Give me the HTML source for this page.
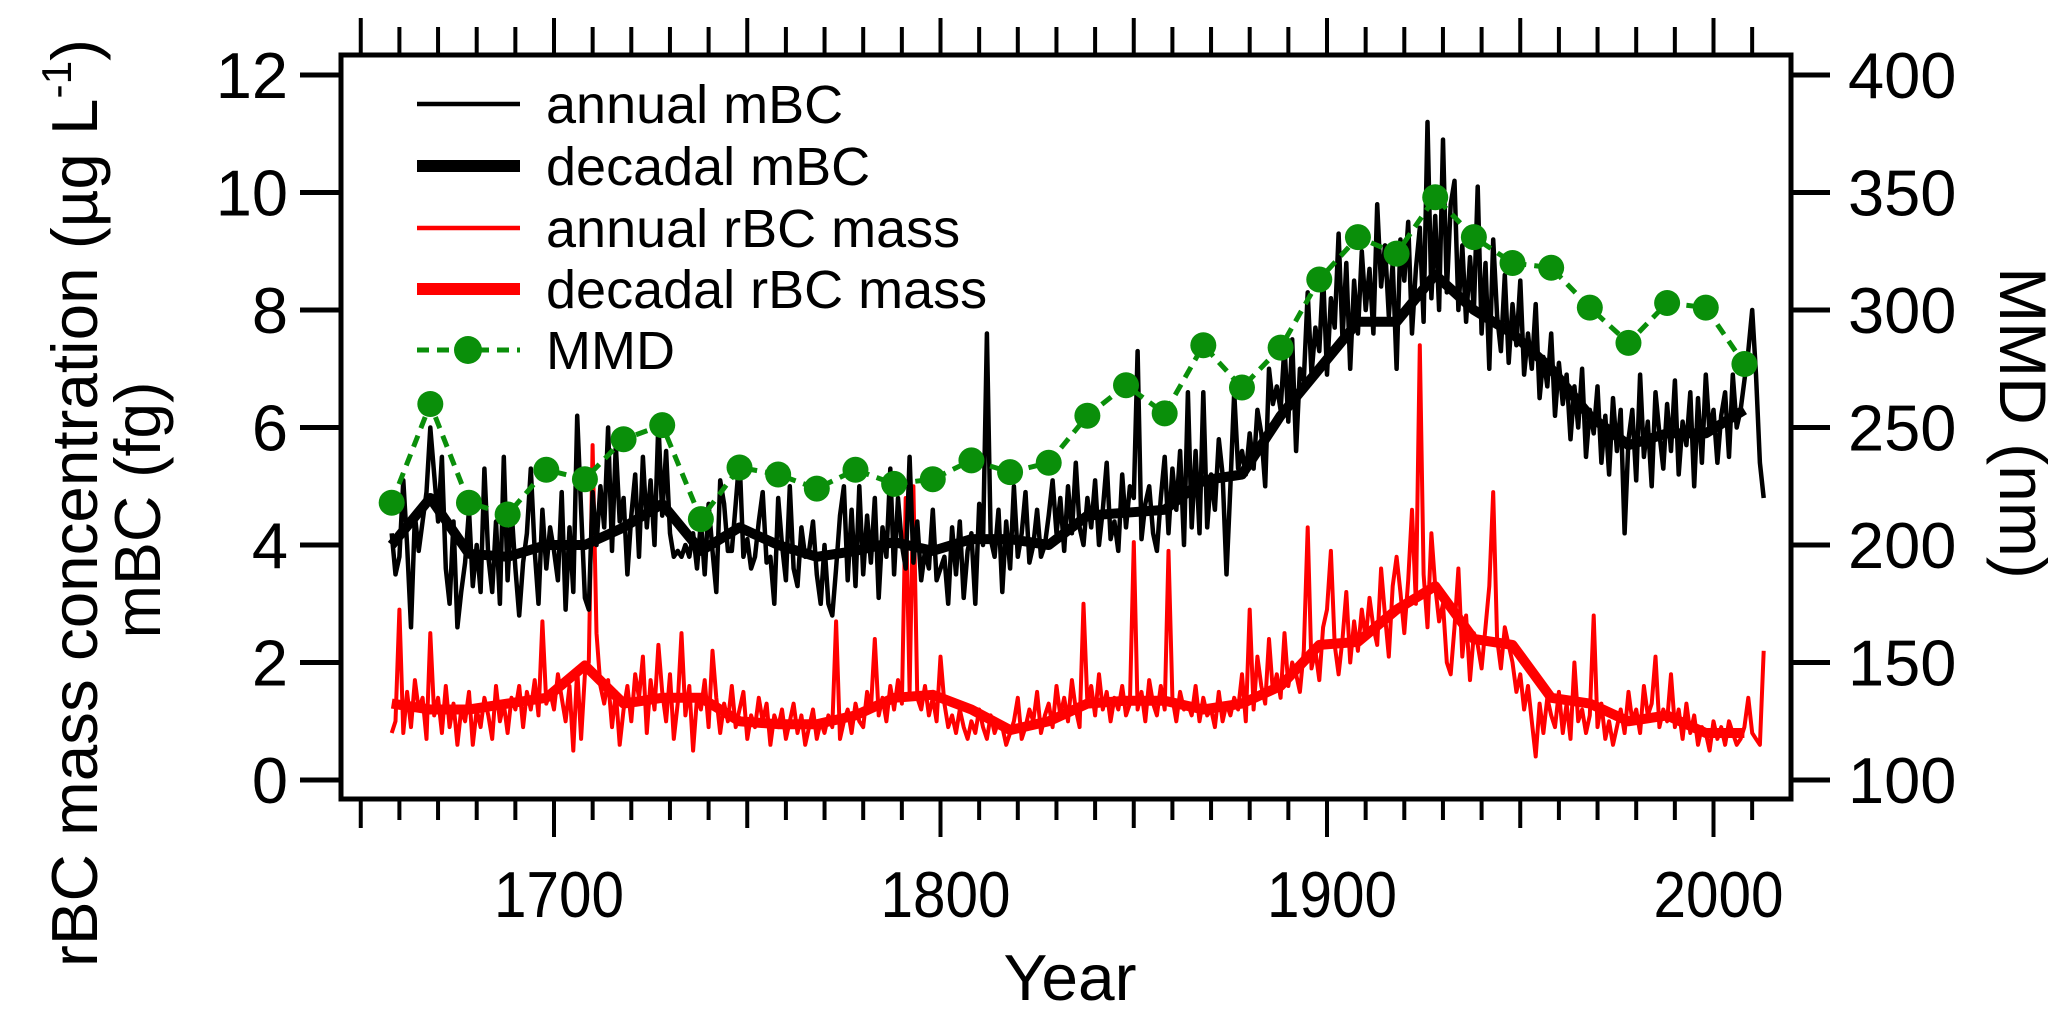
<!DOCTYPE html>
<html><head><meta charset="utf-8"><style>
html,body{margin:0;padding:0;background:#fff}
svg{display:block;font-family:"Liberation Sans",Arial,sans-serif}
</style></head><body>
<svg id="chart" width="2067" height="1020" viewBox="0 0 2067 1020" xmlns="http://www.w3.org/2000/svg">
<g id="series"></g>
<g id="axes"></g>
<rect x="341" y="55" width="1450" height="744" fill="none" stroke="#000" stroke-width="5"/>
<text transform="translate(97,503) rotate(-90)" text-anchor="middle" font-size="65" textLength="928" lengthAdjust="spacingAndGlyphs">rBC mass concentration (µg L<tspan font-size="42" dy="-26">-1</tspan><tspan dy="26">)</tspan></text>
<text transform="translate(160,510) rotate(-90)" text-anchor="middle" font-size="65" textLength="257" lengthAdjust="spacingAndGlyphs">mBC (fg)</text>
<text transform="translate(2000,423) rotate(90)" text-anchor="middle" font-size="66">MMD (nm)</text>
<text x="1070" y="1000" text-anchor="middle" font-size="65" textLength="133" lengthAdjust="spacingAndGlyphs">Year</text>
<g font-size="54">
  <line x1="417" y1="104" x2="520" y2="104" stroke="#000" stroke-width="4.5"/>
  <text x="546" y="123">annual mBC</text>
  <line x1="417" y1="166" x2="520" y2="166" stroke="#000" stroke-width="12"/>
  <text x="546" y="185">decadal mBC</text>
  <line x1="417" y1="228" x2="520" y2="228" stroke="#ff0000" stroke-width="4.5"/>
  <text x="546" y="247">annual rBC mass</text>
  <line x1="417" y1="289" x2="520" y2="289" stroke="#ff0000" stroke-width="12"/>
  <text x="546" y="308">decadal rBC mass</text>
  <line x1="417" y1="350" x2="520" y2="350" stroke="#0a8f0a" stroke-width="5" stroke-dasharray="12 8"/>
  <circle cx="468" cy="350" r="14" fill="#0a8f0a"/>
  <text x="546" y="369">MMD</text>
</g>
</svg>
<script>
const startYear = 1658;
const annualMBC = [
4.2,3.5,3.8,5.1,4.0,2.6,4.5,3.9,4.4,4.9,
6.0,5.2,4.4,5.5,3.6,3.0,4.4,2.6,3.2,3.7,
4.6,3.3,4.0,3.2,5.3,3.8,3.2,4.4,3.0,5.5,
3.4,4.6,3.6,2.8,3.7,4.2,5.3,3.9,3.0,4.6,
3.6,4.3,3.9,3.4,4.9,2.9,4.3,3.2,6.2,4.6,
3.1,2.9,4.9,4.0,5.0,4.3,6.0,3.9,5.7,4.4,
4.8,3.5,4.5,5.2,3.8,5.5,4.3,5.1,4.0,6.1,
4.5,5.6,4.2,3.8,3.9,3.8,4.0,3.8,4.2,3.6,
4.4,3.5,4.7,3.9,3.2,5.1,4.7,3.9,3.9,4.7,
5.5,3.8,4.1,3.6,3.8,4.4,4.9,3.7,3.8,3.0,
4.8,4.0,3.4,5.0,3.6,3.3,4.3,3.8,3.9,4.4,
3.5,3.0,4.0,3.0,2.8,3.6,4.5,5.0,3.4,4.6,
3.3,5.0,3.5,4.5,3.7,4.8,3.1,4.3,3.8,5.3,
3.5,4.8,4.0,3.6,5.5,3.7,4.4,3.4,3.9,3.6,
4.6,3.4,3.6,3.8,3.0,4.3,3.5,4.4,3.1,3.9,
4.2,3.0,4.7,4.0,7.6,4.1,3.8,4.6,3.2,4.4,
3.6,5.0,3.8,4.2,4.9,3.7,4.0,4.6,3.8,4.0,
4.5,5.1,4.2,4.8,3.9,5.0,4.2,5.4,4.3,4.0,
4.8,4.3,5.1,4.0,4.6,5.4,4.1,4.4,3.9,5.2,
4.3,5.0,4.8,7.3,4.1,4.7,5.0,4.2,3.9,4.8,
5.5,4.2,5.3,4.6,5.6,4.0,6.6,4.3,5.6,4.2,
6.6,4.3,5.2,4.6,5.8,5.2,3.5,5.0,6.6,5.3,
5.6,5.2,5.9,5.3,6.3,5.9,5.0,7.0,6.4,6.7,
6.3,7.4,6.1,7.5,5.6,7.0,6.8,8.3,6.9,7.7,
7.3,8.6,6.9,8.2,7.7,9.3,7.5,8.8,7.0,8.5,
7.6,9.0,8.0,8.7,7.6,9.8,8.4,9.1,7.9,8.8,
7.0,9.2,8.5,9.5,7.6,8.7,9.4,7.8,11.2,8.2,
9.6,8.0,10.9,8.3,9.8,10.2,8.0,9.1,7.8,8.9,
8.0,10.1,7.6,8.8,7.0,9.2,7.9,7.3,8.6,7.1,
8.1,7.4,8.5,6.9,7.6,7.0,8.1,6.5,7.2,6.7,
7.6,6.2,7.1,6.4,6.9,5.8,6.7,6.0,7.0,5.5,
6.3,5.9,6.7,5.4,6.2,5.2,6.5,5.6,6.3,4.2,
5.8,6.3,5.1,6.9,5.5,6.1,5.0,6.6,5.9,5.3,
6.4,5.6,6.8,5.2,6.1,5.7,6.6,5.0,6.5,5.4,
6.9,5.9,6.3,5.4,6.2,6.6,5.5,6.9,6.0,6.3,
6.8,7.3,8.0,6.9,5.4,4.8];
const annualRBC = [
0.8,1.0,2.9,0.8,1.5,0.9,1.7,1.2,1.4,0.7,
2.5,1.1,1.4,0.8,1.6,0.9,1.3,0.6,1.2,1.0,
1.5,0.6,1.2,0.9,1.4,1.1,0.7,1.6,1.0,1.3,
0.8,1.4,1.2,1.6,0.9,1.5,1.2,1.7,1.1,2.7,
1.3,1.5,1.2,1.8,1.4,1.0,1.6,0.5,1.9,0.7,
1.8,2.0,5.7,2.5,1.6,1.3,1.7,0.9,1.5,0.6,
1.2,1.6,1.0,1.8,1.4,2.1,0.8,1.7,1.2,2.3,
1.5,1.0,1.8,0.7,1.3,2.5,1.1,1.6,0.5,1.4,
1.2,1.7,0.9,2.2,1.4,0.8,1.3,1.0,1.6,0.9,
1.2,1.5,0.7,1.1,0.9,1.4,1.0,1.3,0.6,1.1,
0.9,1.2,0.7,1.0,1.3,0.8,1.1,0.6,0.9,1.2,
0.7,1.0,0.8,1.1,0.9,2.7,0.7,1.0,1.2,0.8,
1.3,1.0,0.9,1.5,1.2,2.4,1.1,1.4,1.0,1.6,
1.2,1.7,1.3,4.8,1.5,5.0,1.4,1.2,1.6,1.1,
1.4,1.0,2.1,1.3,0.9,1.1,0.8,1.2,0.9,0.7,
1.0,0.8,1.2,0.9,0.7,1.1,0.8,1.0,0.9,0.6,
0.8,1.0,1.4,0.7,0.9,1.2,1.0,1.5,0.8,1.1,
1.3,0.9,1.6,1.1,1.4,1.0,1.7,1.2,0.9,3.0,
1.3,1.6,1.1,1.8,1.2,1.5,1.0,1.4,1.2,1.6,
1.1,1.3,4.05,1.2,1.5,1.0,1.7,1.3,1.1,1.6,
1.2,3.9,1.4,1.0,1.5,1.2,1.3,1.1,1.6,1.0,
1.4,1.1,1.2,0.9,1.5,1.0,1.3,1.1,1.4,1.2,
1.8,1.0,2.9,1.2,2.1,1.6,1.3,2.4,1.5,1.8,
1.4,2.5,1.6,2.0,1.8,1.5,2.2,4.3,1.9,2.2,
1.7,2.6,2.9,3.9,2.3,1.8,2.4,3.2,2.0,2.7,
2.2,2.9,2.4,3.1,2.6,2.3,3.6,2.8,2.1,3.3,
3.8,3.2,2.5,3.4,4.6,3.0,7.4,3.5,2.6,4.2,
3.3,2.7,3.0,2.0,1.8,2.6,3.6,2.1,2.8,1.7,
2.5,2.3,1.9,2.6,3.3,4.9,2.4,1.9,2.6,2.3,
2.0,1.5,1.8,1.2,1.6,1.0,0.4,1.3,0.8,1.4,
1.1,0.9,1.5,0.8,1.3,0.7,2.0,1.0,1.2,0.8,
1.1,2.8,0.9,1.3,0.7,1.0,0.6,0.9,1.2,0.8,
1.5,1.0,1.2,0.8,1.6,1.1,1.3,2.1,0.9,1.2,
1.0,1.8,0.9,1.2,0.7,1.3,0.8,1.1,0.6,0.9,
0.8,0.5,1.0,0.7,0.9,0.6,1.0,0.8,0.6,0.7,
0.9,1.4,0.8,0.7,0.6,2.2];
const decadeYears = [1658,1668,1678,1688,1698,1708,1718,1728,1738,1748,1758,1768,1778,1788,1798,1808,1818,1828,1838,1848,1858,1868,1878,1888,1898,1908,1918,1928,1938,1948,1958,1968,1978,1988,1998,2008];
const decadalMBC = [4.0,4.8,3.85,3.8,4.0,4.0,4.3,4.7,3.9,4.3,4.0,3.8,3.9,4.05,3.9,4.1,4.1,4.0,4.5,4.55,4.6,5.1,5.2,6.2,7.0,7.8,7.8,8.6,8.0,7.6,7.0,6.2,5.7,5.9,5.9,6.3];
const decadalRBC = [1.3,1.2,1.2,1.3,1.4,1.95,1.3,1.4,1.4,1.0,0.95,0.95,1.1,1.4,1.45,1.2,0.85,1.0,1.3,1.35,1.35,1.2,1.3,1.6,2.3,2.35,2.9,3.3,2.4,2.3,1.4,1.3,1.0,1.1,0.8,0.8];
const mmdValues = [218,260,218,213,232,228,245,251,211,233,230,224,232,226,228,236,231,235,255,268,256,285,267,284,313,331,324,348,331,320,318,301,286,303,301,277];
const leftTicks = [0,2,4,6,8,10,12];
const rightTicks = [100,150,200,250,300,350,400];
const xLabels = [1700,1800,1900,2000];

const NS = "http://www.w3.org/2000/svg";
function xs(yr){ return 554 + (yr-1700)*3.865; }
function yl(v){ return 780 - v*58.75; }
function yr(v){ return 780 - (v-100)*2.35; }
function mk(tag, attrs, parent){ const e=document.createElementNS(NS,tag); for(const k in attrs) e.setAttribute(k,attrs[k]); parent.appendChild(e); return e; }
const S=document.getElementById('series'), A=document.getElementById('axes');

function poly(xsArr, ysArr, color, w, name, dash){
  const pts = xsArr.map((x,i)=>x.toFixed(1)+','+ysArr[i].toFixed(1)).join(' ');
  const p = mk('polyline',{points:pts,fill:'none',stroke:color,'stroke-width':w,'stroke-linejoin':'round'},S);
  if(dash) p.setAttribute('stroke-dasharray',dash);
  
  
}
const annYears = annualMBC.map((_,i)=>startYear+i);
poly(annualRBC.map((_,i)=>xs(startYear+i)), annualRBC.map(yl), '#ff0000', 4, 'annual-rbc-line');
poly(decadeYears.map(xs), decadalRBC.map(yl), '#ff0000', 10, 'decadal-rbc-line');
poly(annYears.map(xs), annualMBC.map(yl), '#000', 4.5, 'annual-mbc-line');
poly(decadeYears.map(xs), decadalMBC.map(yl), '#000', 10, 'decadal-mbc-line');
poly(decadeYears.map(xs), mmdValues.map(yr), '#0a8f0a', 5, 'mmd-line', '12 8');
mmdValues.forEach((v,i)=>{
  const c = mk('circle',{cx:xs(decadeYears[i]),cy:yr(v),r:13,fill:'#0a8f0a'},S);
  
  
});

leftTicks.forEach(v=>{
  const t = mk('line',{x1:300,x2:341,y1:yl(v),y2:yl(v),stroke:'#000','stroke-width':5},A);
  
  
  const l = mk('text',{x:288,y:yl(v)+23,'text-anchor':'end','font-size':65},A);
  l.textContent = v;
  
  
});
rightTicks.forEach(v=>{
  const t = mk('line',{x1:1791,x2:1830,y1:yr(v),y2:yr(v),stroke:'#000','stroke-width':5},A);
  
  
  const l = mk('text',{x:1848,y:yr(v)+23,'text-anchor':'start','font-size':65},A);
  l.textContent = v;
  
  
});
for(let yv=1650; yv<=2010; yv+=10){
  const x = xs(yv);
  const len = yv%100===0 ? 38 : (yv%50===0 ? 29 : 21);
  const b = mk('line',{x1:x,x2:x,y1:799,y2:799+len,stroke:'#000','stroke-width':4},A);
  
  
  const tl = yv%50===0 ? 37 : 28;
  const t = mk('line',{x1:x,x2:x,y1:55,y2:55-tl,stroke:'#000','stroke-width':4},A);
  
  
}
xLabels.forEach(v=>{
  const l = mk('text',{x:xs(v)+5,y:917,'text-anchor':'middle','font-size':65,textLength:130,lengthAdjust:'spacingAndGlyphs'},A);
  l.textContent = v;
  
  
});
</script>
</body></html>
